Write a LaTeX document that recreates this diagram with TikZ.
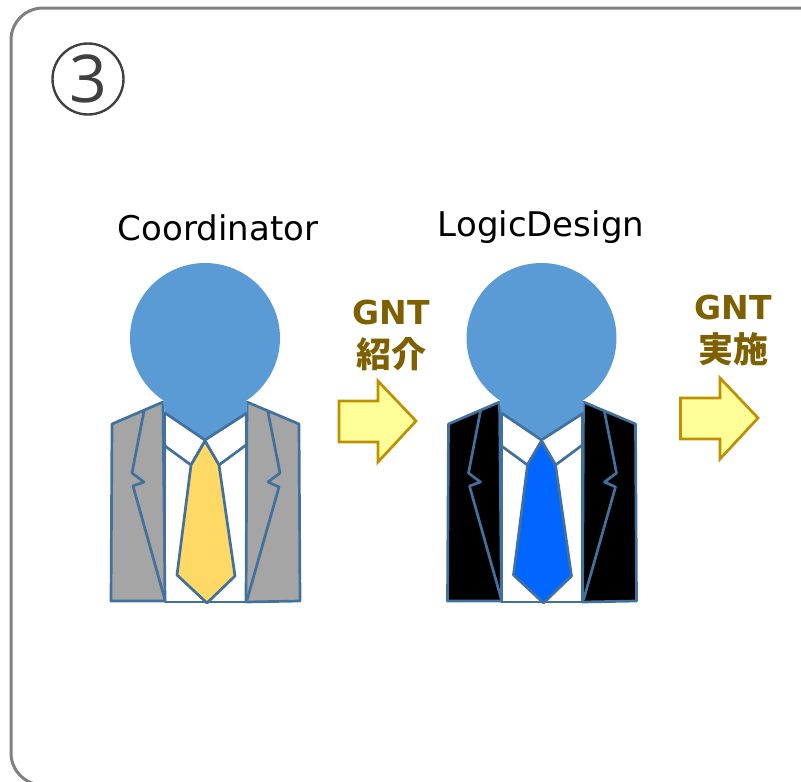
\documentclass[tikz,border=0pt]{standalone}
\usepackage{fontspec}
\setmainfont{DejaVu Sans}
\newfontfamily\cjkfont{Noto Sans CJK JP}
\newfontfamily\numfont{Open Sans}
\definecolor{headblue}{HTML}{5B9BD5}
\definecolor{linkblue}{HTML}{41719C}
\definecolor{suitgray}{HTML}{A5A5A5}
\definecolor{tieyellow}{HTML}{FFD966}
\definecolor{tieblue}{HTML}{0066FF}
\definecolor{arrowfill}{HTML}{FFFF99}
\definecolor{arrowline}{HTML}{BF9000}
\definecolor{gnttext}{HTML}{7F6000}
\tikzset{
  suitline/.style={draw=linkblue, line width=2.7pt, line join=round},
  gntarrow/.style={draw=arrowline, fill=arrowfill, line width=2.7pt, line join=miter},
  namelabel/.style={font=\fontsize{34}{36}\selectfont, text=black},
  gntlabel/.style={font=\bfseries\fontsize{33}{43}\selectfont, text=gnttext, align=center}
}
\newcommand{\gntcjk}[1]{{\cjkfont\bfseries\fontsize{35}{43}\selectfont #1}}
\begin{document}
\begin{tikzpicture}[x=1pt,y=-1pt]
  \useasboundingbox (0,0) rectangle (801,782);
  \clip (0,0) rectangle (801,782);
  % frame
  \draw[draw=black!50, line width=3pt, rounded corners=32pt] (11,8) rectangle (840,785);
  % number
  \node[draw=black!75, line width=2.4pt, circle, minimum size=71pt, inner sep=0pt, text=black!75, font=\numfont\fontsize{66}{66}\selectfont] (number) at (88,79) {3};

  % persons
  \foreach \ox/\suit/\tie in {0/suitgray/tieyellow, 336.5/black/tieblue} {
    \begin{scope}[xshift=\ox pt]
      % shirt
      \draw[suitline, fill=white] (165,412) rectangle (246,602);
      % jacket
      \draw[suitline, fill=\suit] (112,424) -- (163,402) -- (165,601) -- (111,601) -- cycle;
      \draw[suitline, fill=\suit] (247,402) -- (299,424) -- (300,601) -- (246,602) -- cycle;
      % lapels
      \draw[suitline] (144,411) -- (132,473) -- (144,482) -- (133,486) -- (165,600);
      \draw[suitline] (268,412) -- (280,473) -- (268,482) -- (279,487) -- (247,600);
      % head
      \fill[headblue] (205,338) circle (75);
      \fill[headblue] (163,402) -- (165,413) -- (205,440) -- (247,413) -- (247,402) -- (205,380) -- cycle;
      % collar
      \draw[suitline] (165,413) -- (205,440) -- (247,413);
      \draw[suitline] (165,446) -- (191,465) -- (205,441) -- (219,465) -- (246,445);
      % tie
      \draw[suitline, fill=\tie] (205,441) -- (191,465) -- (177,575) -- (207,603) -- (235,576) -- (219,465) -- cycle;
    \end{scope}
  }

  % names
  \node[namelabel] (coordinator) at (218,228) {Coordinator};
  \node[namelabel] (logicdesign) at (541,227) {LogicDesign};

  % arrows
  \draw[gntarrow] (339,401) -- (378,401) -- (378,381) -- (416,421) -- (378,462) -- (378,442) -- (339,442) -- cycle;
  \draw[gntarrow] (680.5,398) -- (720,398) -- (720,378) -- (758,418) -- (720,459) -- (720,439) -- (680.5,439) -- cycle;

  % arrow labels
  \node[gntlabel] (intro) at (391,335) {GNT\\\gntcjk{紹介}};
  \node[gntlabel] (exec) at (733,330) {GNT\\\gntcjk{実施}};
\end{tikzpicture}
\end{document}
